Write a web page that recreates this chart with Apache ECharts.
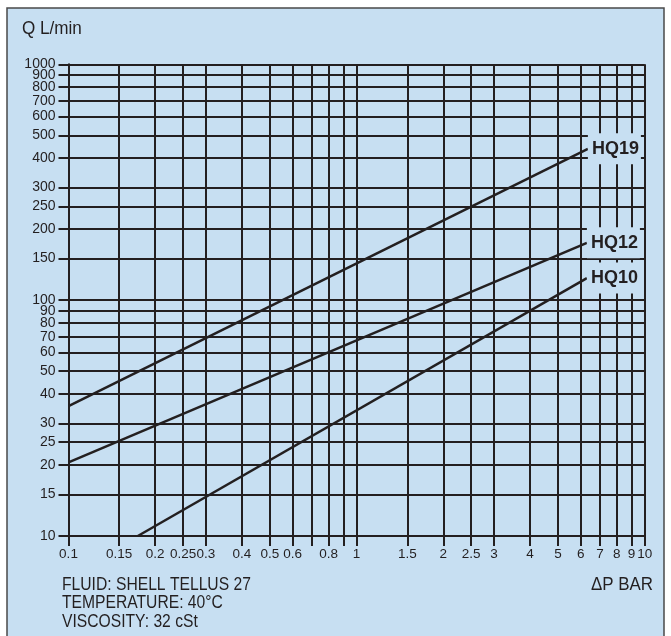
<!DOCTYPE html>
<html>
<head>
<meta charset="utf-8">
<script src="https://cdn.jsdelivr.net/npm/echarts@6/dist/echarts.min.js"></script>
<style>
html,body{margin:0;padding:0;background:#fff;}
#chart{width:671px;height:636px;}
</style>
</head>
<body>
<div id="chart"></div>
<script>
// ---- data ----
const seriesNames = ['HQ19', 'HQ12', 'HQ10'];
const hq19 = [[0.1, 35.5], [6.35, 438]];
const hq12 = [[0.1, 20.5], [6.3, 175]];
const hq10 = [[0.174, 10], [6.3, 124]];
const xGridValues = [0.1, 0.15, 0.2, 0.25, 0.3, 0.4, 0.5, 0.6, 0.7, 0.8, 0.9, 1, 1.5, 2, 2.5, 3, 4, 5, 6, 7, 8, 9, 10];
const xLabelValues = [0.1, 0.15, 0.2, 0.25, 0.3, 0.4, 0.5, 0.6, 0.8, 1, 1.5, 2, 2.5, 3, 4, 5, 6, 7, 8, 9, 10];
const yGridValues = [10, 15, 20, 25, 30, 40, 50, 60, 70, 80, 90, 100, 150, 200, 250, 300, 400, 500, 600, 700, 800, 900, 1000];
const yLabelValues = yGridValues;
const yAxisTitle = 'Q L/min';
const xAxisTitle = '\u0394P BAR';
const noteLines = ['FLUID: SHELL TELLUS 27', 'TEMPERATURE: 40\u00B0C', 'VISCOSITY: 32 cSt'];

// ---- style ----
const BG = '#c7dff2';
const INK = '#231f20';
const FONT = '"Liberation Sans Narrow", "Arial Narrow", "Liberation Sans", Arial, sans-serif';
const fmt = v => String(+(+v).toPrecision(6));

// labels split over two coincident axes so that tightly packed labels are not auto-hidden
const yLabelsA = yLabelValues.filter((v, i) => i % 2 === 0);
const yLabelsB = yLabelValues.filter((v, i) => i % 2 === 1);

const chart = echarts.init(document.getElementById('chart'), null, {renderer: 'canvas'});

const gridMarks = xGridValues.map(v => ({xAxis: v})).concat(yGridValues.map(v => ({yAxis: v})));

const dataSeries = [hq19, hq12, hq10].map((d, i) => ({
  name: seriesNames[i],
  type: 'line',
  data: d,
  z: 5,
  symbol: 'none',
  silent: true,
  lineStyle: {color: INK, width: 2.5},
  endLabel: {
    show: true,
    formatter: '{a}',
    fontFamily: FONT,
    fontWeight: 'bold',
    fontSize: 18,
    color: INK,
    backgroundColor: BG,
    padding: [7, 2, 6, 4],
    distance: 0
  }
}));

const yAxisBase = (labels, primary) => ({
  type: 'log', logBase: 10, min: 10, max: 1000, position: 'left', offset: 0,
  axisLine: {show: primary, lineStyle: {color: INK, width: 2}},
  axisTick: {show: primary, customValues: yGridValues, length: 10, inside: false, lineStyle: {color: INK, width: 2}},
  axisLabel: {show: true, customValues: labels, formatter: fmt, margin: 13,
    showMinLabel: true, showMaxLabel: true, hideOverlap: false,
    fontFamily: FONT, fontSize: 14, color: INK},
  splitLine: {show: false},
  minorTick: {show: false}
});

const option = {
  backgroundColor: '#ffffff',
  animation: false,
  graphic: [
    {type: 'rect', z: -100, shape: {x: 7, y: 8, width: 657, height: 640},
     style: {fill: BG, stroke: '#4a4a4a', lineWidth: 1.5}},
    {type: 'text', x: 22, y: 20, z: 10, scaleX: 0.95,
     style: {text: yAxisTitle, font: '18px ' + FONT, fill: INK, verticalAlign: 'top'}},
    {type: 'text', x: 62, y: 575.5, z: 10, scaleX: 0.87,
     style: {text: noteLines.join('\n'), font: '18px ' + FONT, lineHeight: 18.5, fill: INK, verticalAlign: 'top'}},
    {type: 'text', x: 653, y: 576, z: 10, scaleX: 0.94,
     style: {text: xAxisTitle, font: '18px ' + FONT, fill: INK, align: 'right', verticalAlign: 'top'}}
  ],
  grid: {left: 68.5, right: 26.3, top: 64.3, bottom: 100, outerBoundsMode: 'none', containLabel: false},
  xAxis: {
    type: 'log', logBase: 10, min: 0.1, max: 10,
    axisLine: {show: true, lineStyle: {color: INK, width: 2}},
    axisTick: {show: true, customValues: xGridValues, length: 10, inside: false, lineStyle: {color: INK, width: 2}},
    axisLabel: {show: true, customValues: xLabelValues, formatter: fmt, margin: 11,
      showMinLabel: true, showMaxLabel: true, hideOverlap: false,
      fontFamily: FONT, fontSize: 13.5, color: INK},
    splitLine: {show: false},
    minorTick: {show: false}
  },
  yAxis: [yAxisBase(yLabelsA, true), yAxisBase(yLabelsB, false)],
  series: [
    {
      name: 'grid',
      type: 'line',
      data: [],
      z: 1,
      silent: true,
      markLine: {
        silent: true,
        symbol: ['none', 'none'],
        label: {show: false},
        lineStyle: {type: 'solid', color: INK, width: 2},
        emphasis: {disabled: true},
        data: gridMarks
      }
    }
  ].concat(dataSeries)
};
chart.setOption(option);
</script>
</body>
</html>
